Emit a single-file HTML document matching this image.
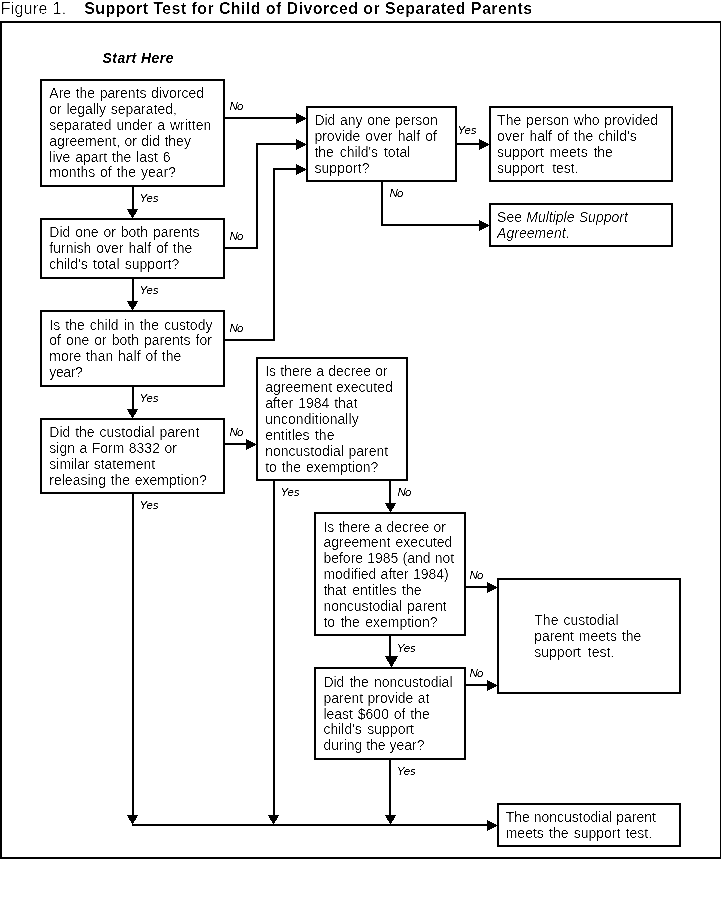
<!DOCTYPE html>
<html lang="en">
<head>
<meta charset="utf-8">
<title>Figure 1. Support Test for Child of Divorced or Separated Parents</title>
<style>
html,body{margin:0;padding:0;background:#fff;}
body{width:721px;height:903px;overflow:hidden;}
svg{display:block;}
text{font-family:"Liberation Sans",sans-serif;fill:#000;white-space:pre;}
.t{font-size:14px;}
.l{font-size:11.5px;font-style:italic;}
.i{font-style:italic;}
.cap{font-size:16px;}
.capb{font-size:16px;font-weight:bold;}
.st{font-size:14px;font-weight:bold;font-style:italic;}
</style>
</head>
<body>
<svg width="721" height="903" viewBox="0 0 721 903" role="img" aria-label="Figure 1. Support Test for Child of Divorced or Separated Parents">
<defs>
<filter id="f-shape" x="0" y="0" width="721" height="903" filterUnits="userSpaceOnUse" color-interpolation-filters="sRGB"><feComponentTransfer><feFuncA type="discrete" tableValues="0 0 0 0 0 0 0 0 0 0 1 1 1 1 1 1 1 1 1 1"/></feComponentTransfer></filter>
<filter id="f-t" x="0" y="0" width="721" height="903" filterUnits="userSpaceOnUse" color-interpolation-filters="sRGB"><feComponentTransfer><feFuncA type="linear" slope="3" intercept="-1.300"/></feComponentTransfer></filter>
<filter id="f-l" x="0" y="0" width="721" height="903" filterUnits="userSpaceOnUse" color-interpolation-filters="sRGB"><feComponentTransfer><feFuncA type="linear" slope="3" intercept="-1.000"/></feComponentTransfer></filter>
<filter id="f-cap" x="0" y="0" width="721" height="903" filterUnits="userSpaceOnUse" color-interpolation-filters="sRGB"><feComponentTransfer><feFuncA type="linear" slope="3" intercept="-1.540"/></feComponentTransfer></filter>
<filter id="f-capb" x="0" y="0" width="721" height="903" filterUnits="userSpaceOnUse" color-interpolation-filters="sRGB"><feComponentTransfer><feFuncA type="linear" slope="3" intercept="-1.300"/></feComponentTransfer></filter>
<filter id="f-st" x="0" y="0" width="721" height="903" filterUnits="userSpaceOnUse" color-interpolation-filters="sRGB"><feComponentTransfer><feFuncA type="linear" slope="3" intercept="-1.000"/></feComponentTransfer></filter>
</defs>
<rect x="0" y="0" width="721" height="903" fill="#fff"/>
<g id="boxes" fill="none" stroke="#000" stroke-width="2" shape-rendering="crispEdges">
<rect x="1" y="22" width="720" height="836"/>
<rect x="41" y="80" width="183" height="106"/>
<rect x="41" y="219" width="183" height="59"/>
<rect x="41" y="311" width="183" height="75"/>
<rect x="41" y="419" width="183" height="74"/>
<rect x="307" y="107" width="149" height="74"/>
<rect x="490" y="107" width="182" height="74"/>
<rect x="490" y="204" width="182" height="42"/>
<rect x="257" y="358" width="150" height="122"/>
<rect x="315" y="513" width="150" height="122"/>
<rect x="315" y="668" width="150" height="91"/>
<rect x="498" y="579" width="182" height="114"/>
<rect x="498" y="804" width="182" height="42"/>
</g>
<g id="lines" fill="#000" shape-rendering="crispEdges">
<rect x="225" y="117" width="75" height="2"/>
<rect x="132" y="187" width="2" height="25"/>
<rect x="132" y="279" width="2" height="25"/>
<rect x="132" y="387" width="2" height="25"/>
<rect x="132" y="494" width="2" height="324"/>
<rect x="225" y="247" width="33" height="2"/>
<rect x="256" y="143" width="2" height="106"/>
<rect x="256" y="143" width="44" height="2"/>
<rect x="225" y="339" width="50" height="2"/>
<rect x="273" y="168" width="2" height="173"/>
<rect x="273" y="168" width="27" height="2"/>
<rect x="225" y="443" width="25" height="2"/>
<rect x="457" y="143" width="26" height="2"/>
<rect x="381" y="182" width="2" height="44"/>
<rect x="381" y="224" width="102" height="2"/>
<rect x="273" y="481" width="2" height="337"/>
<rect x="389" y="481" width="2" height="25"/>
<rect x="466" y="586" width="25" height="2"/>
<rect x="389" y="636" width="2" height="24"/>
<rect x="466" y="684" width="25" height="2"/>
<rect x="389" y="760" width="2" height="58"/>
<rect x="132" y="824" width="359" height="2"/>
</g>
<g id="heads" fill="#000" filter="url(#f-shape)">
<polygon points="296,113 307,118.5 296,124"/>
<polygon points="296,139 307,144.5 296,150"/>
<polygon points="296,164 307,169.5 296,175"/>
<polygon points="246,439 257,444.5 246,450"/>
<polygon points="479,139 490,144.5 479,150"/>
<polygon points="479,220 490,225.5 479,231"/>
<polygon points="487,582 498,587.5 487,593"/>
<polygon points="487,680 498,685.5 487,691"/>
<polygon points="487,820 498,825.5 487,831"/>
<polygon points="127,209 138,209 132.5,219"/>
<polygon points="127,301 138,301 132.5,311"/>
<polygon points="127,409 138,409 132.5,419"/>
<polygon points="127,815 138,815 132.5,825"/>
<polygon points="268,815 279,815 273.5,825"/>
<polygon points="385,503 396,503 390.5,513"/>
<polygon points="385,656 398,656 391.5,668"/>
<polygon points="385,815 396,815 390.5,825"/>
</g>
<g class="cap" filter="url(#f-cap)">
<text id="cap" x="0.7" y="14" style="letter-spacing:0.281px">Figure 1.</text>
</g>
<g class="capb" filter="url(#f-capb)">
<text id="capb" x="84.2" y="14" style="letter-spacing:0.413px">Support Test for Child of Divorced or Separated Parents</text>
</g>
<g class="st" filter="url(#f-st)">
<text id="st" x="102.6" y="63" style="letter-spacing:0.440px">Start Here</text>
</g>
<g class="t" filter="url(#f-t)">
<text id="b1-0" x="49.3" y="98" style="word-spacing:0.720px">Are the parents divorced</text>
<text id="b1-1" x="49.3" y="114" style="word-spacing:0.765px">or legally separated,</text>
<text id="b1-2" x="49.3" y="130" style="word-spacing:1.050px">separated under a written</text>
<text id="b1-3" x="49.3" y="146" style="word-spacing:0.510px">agreement, or did they</text>
<text id="b1-4" x="49.3" y="162" style="word-spacing:0.945px">live apart the last 6</text>
<text id="b1-5" x="49.3" y="177" style="word-spacing:0.960px">months of the year?</text>
<text id="b2-0" x="49.3" y="237" style="word-spacing:0.990px">Did one or both parents</text>
<text id="b2-1" x="49.3" y="253" style="word-spacing:1.125px">furnish over half of the</text>
<text id="b2-2" x="49.3" y="269" style="word-spacing:1.395px">child's total support?</text>
<text id="b3-0" x="49.3" y="330" style="word-spacing:1.188px">Is the child in the custody</text>
<text id="b3-1" x="49.3" y="345" style="word-spacing:1.080px">of one or both parents for</text>
<text id="b3-2" x="49.3" y="361" style="word-spacing:0.900px">more than half of the</text>
<text id="b3-3" x="49.3" y="377" style="letter-spacing:-0.405px">year?</text>
<text id="b4-0" x="49.3" y="437" style="word-spacing:0.960px">Did the custodial parent</text>
<text id="b4-1" x="49.3" y="453" style="word-spacing:0.562px">sign a Form 8332 or</text>
<text id="b4-2" x="49.3" y="469">similar statement</text>
<text id="b4-3" x="49.3" y="485" style="word-spacing:0.675px">releasing the exemption?</text>
<text id="A-0" x="314.4" y="125" style="word-spacing:0.690px">Did any one person</text>
<text id="A-1" x="314.4" y="141" style="word-spacing:1.170px">provide over half of</text>
<text id="A-2" x="314.4" y="157" style="word-spacing:1.890px">the child's total</text>
<text id="A-3" x="314.4" y="173" style="letter-spacing:0.077px">support?</text>
<text id="B-0" x="497.1" y="125" style="word-spacing:0.990px">The person who provided</text>
<text id="B-1" x="497.1" y="141" style="word-spacing:1.192px">over half of the child's</text>
<text id="B-2" x="497.1" y="157" style="word-spacing:1.845px">support meets the</text>
<text id="B-3" x="497.1" y="173" style="word-spacing:4.500px">support test.</text>
<text id="C-0" x="497.1" y="222" style="word-spacing:0.360px">See <tspan class="i">Multiple Support</tspan></text>
<text id="C-1" x="497.1" y="238"><tspan class="i">Agreement</tspan>.</text>
<text id="D-0" x="265.2" y="376" style="word-spacing:0.270px">Is there a decree or</text>
<text id="D-1" x="265.2" y="392">agreement executed</text>
<text id="D-2" x="265.2" y="408" style="word-spacing:1.035px">after 1984 that</text>
<text id="D-3" x="265.2" y="424" style="letter-spacing:0.064px">unconditionally</text>
<text id="D-4" x="265.2" y="440" style="word-spacing:1.530px">entitles the</text>
<text id="D-5" x="265.2" y="456" style="word-spacing:0.810px">noncustodial parent</text>
<text id="D-6" x="265.2" y="472" style="word-spacing:0.900px">to the exemption?</text>
<text id="E-0" x="323.4" y="532" style="word-spacing:0.293px">Is there a decree or</text>
<text id="E-1" x="323.4" y="547" style="word-spacing:1.350px">agreement executed</text>
<text id="E-2" x="323.4" y="563" style="word-spacing:0.240px">before 1985 (and not</text>
<text id="E-3" x="323.4" y="579" style="word-spacing:0.405px">modified after 1984)</text>
<text id="E-4" x="323.4" y="595" style="word-spacing:1.620px">that entitles the</text>
<text id="E-5" x="323.4" y="611" style="word-spacing:1.170px">noncustodial parent</text>
<text id="E-6" x="323.4" y="627" style="word-spacing:1.440px">to the exemption?</text>
<text id="F-0" x="323.4" y="687" style="word-spacing:1.125px">Did the noncustodial</text>
<text id="F-1" x="323.4" y="703" style="word-spacing:0.495px">parent provide at</text>
<text id="F-2" x="323.4" y="719" style="word-spacing:0.930px">least $600 of the</text>
<text id="F-3" x="323.4" y="734" style="word-spacing:1.530px">child's support</text>
<text id="F-4" x="323.4" y="750">during the year?</text>
<text id="G-0" x="534.3" y="625" style="word-spacing:1.080px">The custodial</text>
<text id="G-1" x="534.3" y="641" style="word-spacing:0.990px">parent meets the</text>
<text id="G-2" x="534.3" y="657" style="word-spacing:2.880px">support test.</text>
<text id="H-0" x="505.7" y="822">The noncustodial parent</text>
<text id="H-1" x="505.7" y="838" style="word-spacing:1.320px">meets the support test.</text>
</g>
<g class="l" filter="url(#f-l)">
<text id="l0" x="229.4" y="110" style="letter-spacing:-0.810px">No</text>
<text id="l1" x="229.4" y="240" style="letter-spacing:-0.810px">No</text>
<text id="l2" x="229.4" y="332" style="letter-spacing:-0.810px">No</text>
<text id="l3" x="229.4" y="436" style="letter-spacing:-0.810px">No</text>
<text id="l4" x="389.4" y="197" style="letter-spacing:-0.810px">No</text>
<text id="l5" x="397.4" y="496" style="letter-spacing:-0.810px">No</text>
<text id="l6" x="469.4" y="579" style="letter-spacing:-0.810px">No</text>
<text id="l7" x="469.4" y="677" style="letter-spacing:-0.810px">No</text>
<text id="l8" x="139.4" y="202">Yes</text>
<text id="l9" x="139.4" y="294">Yes</text>
<text id="l10" x="139.4" y="402">Yes</text>
<text id="l11" x="139.4" y="509">Yes</text>
<text id="l12" x="457.4" y="134">Yes</text>
<text id="l13" x="280.4" y="496">Yes</text>
<text id="l14" x="396.7" y="652">Yes</text>
<text id="l15" x="396.7" y="775">Yes</text>
</g>
</svg>
</body>
</html>
